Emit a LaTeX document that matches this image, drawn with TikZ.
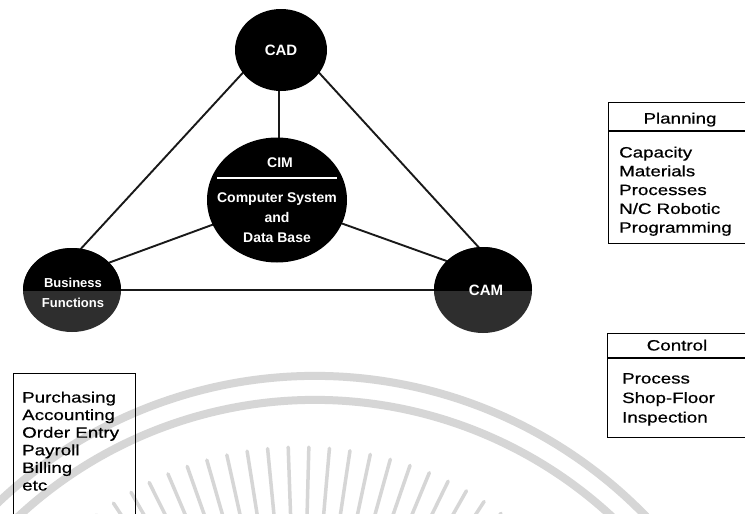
\documentclass[tikz,border=0pt]{standalone}
\usepackage{fontspec}
\setmainfont{Liberation Sans}
\newfontfamily\boxfont[FakeStretch=1.25,FakeBold=0.6]{Liberation Sans}
\usetikzlibrary{shapes.geometric}
\definecolor{wm}{HTML}{D6D6D6}
\definecolor{lowgray}{HTML}{2E2E2E}
\begin{document}
\begin{tikzpicture}[x=1pt,y=-1pt,
  link/.style={draw=black!90, line width=1.9pt},
  disc/.style={ellipse, fill=black, inner sep=0},
  wlabel/.style={text=white, font=\bfseries\fontsize{15}{18}\selectfont, inner sep=0, anchor=base},
  clabel/.style={text=white, font=\bfseries\fontsize{14}{17}\selectfont, inner sep=0, anchor=base},
  item/.style={font=\boxfont\fontsize{15}{18}\selectfont, anchor=base west, inner sep=0},
  head/.style={font=\boxfont\fontsize{15}{18}\selectfont, anchor=base, inner sep=0},
  panel/.style={draw, line width=1.3pt, anchor=north west, inner sep=0},
  wmark/.style={draw=wm, line width=8pt},
  ray/.style={draw=wm, line width=3.5pt, line cap=round}]
\useasboundingbox (0,0) rectangle (745,514);
\fill[white] (0,0) rectangle (745,514);

% faint watermark
\draw[wmark] ([shift={(-20:460)}]315,836) arc[start angle=-20, end angle=-160, radius=460];
\draw[wmark] ([shift={(-20:436)}]315,836) arc[start angle=-20, end angle=-160, radius=436];
\foreach \a in {50,53.5,...,132}
  \draw[ray] ([shift={(-\a:255)}]300,785) -- ([shift={(-\a:338)}]300,785);

% connector end points
\coordinate (cadL) at (250,65);
\coordinate (busT) at (77,253);
\coordinate (cadR) at (312,65);
\coordinate (camT) at (483,252);
\coordinate (cadB) at (279,85);
\coordinate (cimT) at (279,145);
\coordinate (cimL) at (220,222);
\coordinate (busR) at (100,266);
\coordinate (cimR) at (335,221);
\coordinate (camL) at (455,264);
\coordinate (busE) at (110,290);
\coordinate (camW) at (450,290);

\draw[link] (cadL) -- (busT);
\draw[link] (cadR) -- (camT);
\draw[link] (cadB) -- (cimT);
\draw[link] (cimL) -- (busR);
\draw[link] (cimR) -- (camL);
\draw[link] (busE) -- (camW);

% circles
\node[disc, minimum width=92pt, minimum height=82pt] (cad) at (281,50) {};
\node[wlabel] (cadt) at (281,55.5) {CAD};

\node[disc, minimum width=140pt, minimum height=125pt] (cim) at (277,200) {};
\node[clabel] (cimt) at (280,167) {CIM};
\draw[white, line width=1.4pt] (217,178) -- (337,178);
\node[clabel] (cim1) at (277,202) {Computer System};
\node[clabel] (cim2) at (277,222) {and};
\node[clabel] (cim3) at (277,242) {Data Base};

\node[disc, fill=lowgray, minimum width=98pt, minimum height=84pt] (bus) at (72,290) {};
\begin{scope}
  \clip (0,0) rectangle (745,290);
  \fill[black] (bus.center) ellipse[x radius=49, y radius=42];
\end{scope}
\node[clabel, font=\bfseries\fontsize{13}{16}\selectfont] (bus1) at (73,287) {Business};
\node[clabel, font=\bfseries\fontsize{13}{16}\selectfont] (bus2) at (73,307) {Functions};

\node[disc, fill=lowgray, minimum width=98pt, minimum height=86pt] (cam) at (483,290) {};
\begin{scope}
  \clip (0,0) rectangle (745,290);
  \fill[black] (cam.center) ellipse[x radius=49, y radius=43];
\end{scope}
\node[wlabel] (camt) at (486,295.5) {CAM};

% Planning panel
\node[panel, minimum width=144pt, minimum height=141pt] (plan) at (608,102) {};
\draw[line width=1.3pt] (plan.west |- 0,131) -- (plan.east |- 0,131);
\node[head] (planh) at (680,123.5) {Planning};
\foreach \t [count=\i] in {Capacity,Materials,Processes,N/C Robotic,Programming}
  \node[item] (p\i) at (619,{157.5+18.8*(\i-1)}) {\t};

% Control panel
\node[panel, minimum width=140pt, minimum height=104pt] (ctrl) at (607,333) {};
\draw[line width=1.3pt] (ctrl.west |- 0,358) -- (ctrl.east |- 0,358);
\node[head] (ctrlh) at (677,350.5) {Control};
\foreach \t [count=\i] in {Process,Shop-Floor,Inspection}
  \node[item] (c\i) at (622,{383.5+19.5*(\i-1)}) {\t};

% Business panel
\node[panel, minimum width=122pt, minimum height=160pt] (biz) at (13,373) {};
\foreach \t [count=\i] in {Purchasing,Accounting,Order Entry,Payroll,Billing,etc}
  \node[item] (b\i) at (22,{402.5+17.6*(\i-1)}) {\t};
\end{tikzpicture}
\end{document}
